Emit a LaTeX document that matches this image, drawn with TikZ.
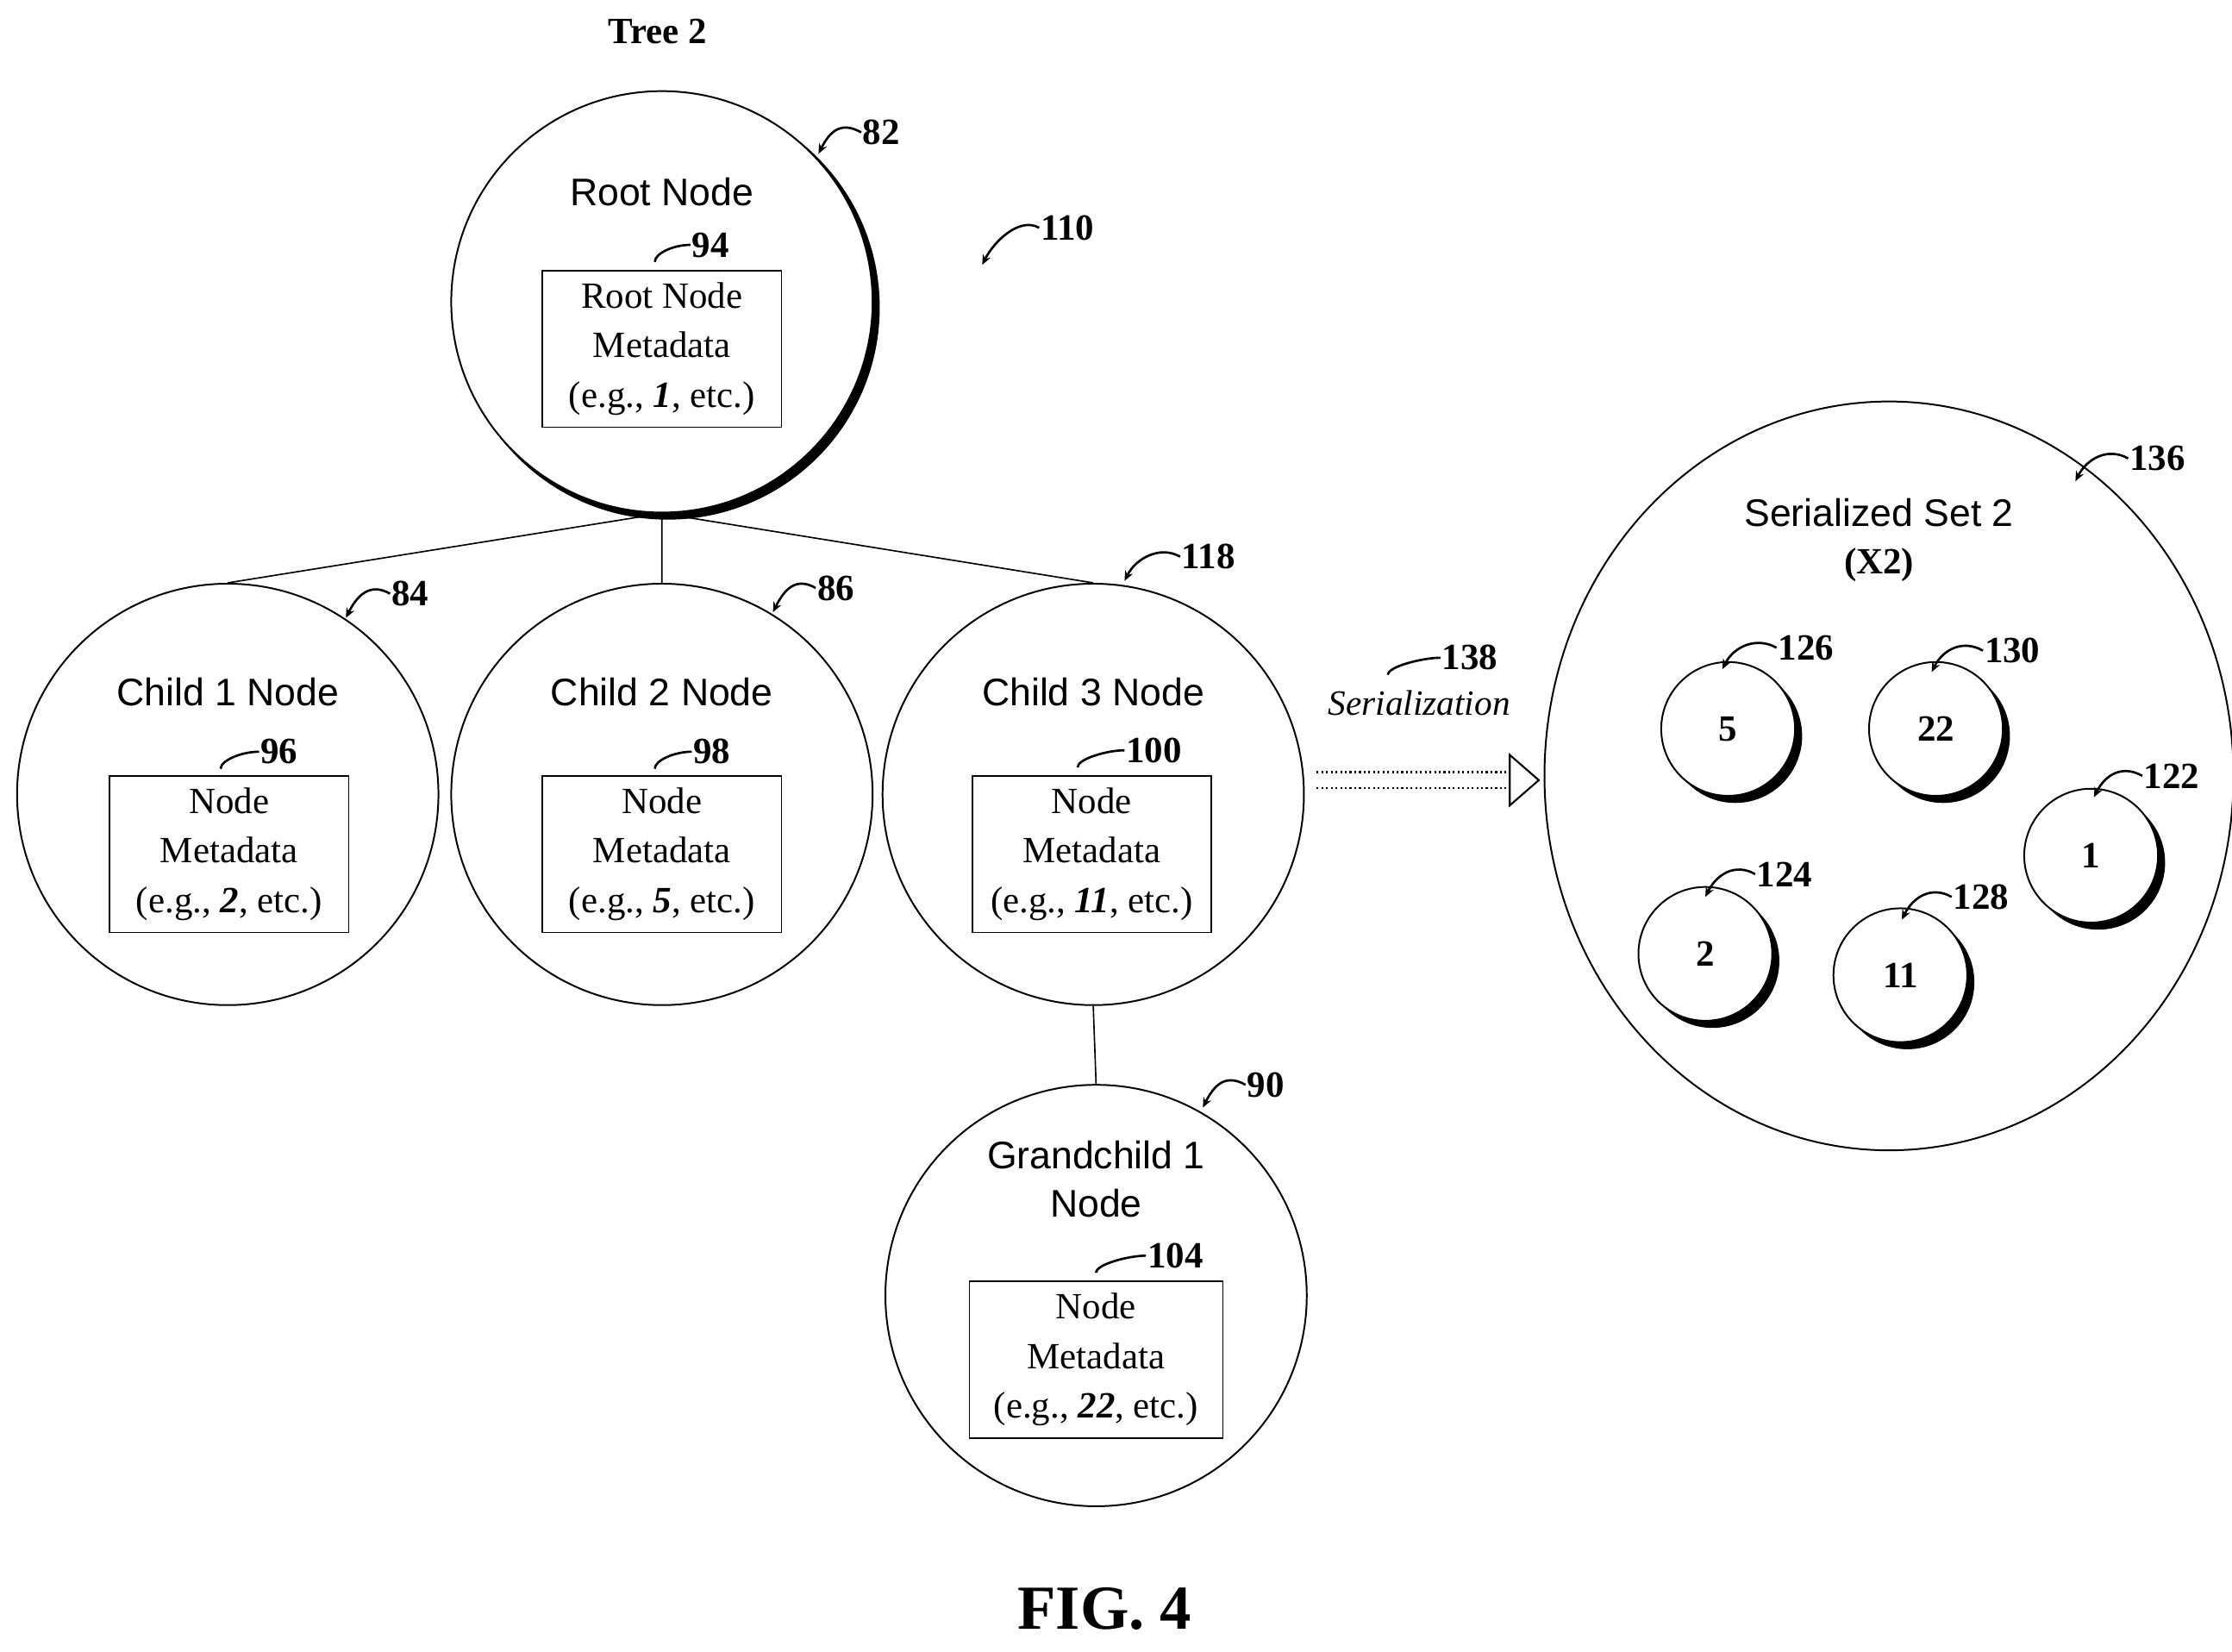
\documentclass[tikz,border=0pt]{standalone}
\usepackage{fontspec}
\setmainfont{Liberation Serif}
\setsansfont{Liberation Sans}
\usetikzlibrary{arrows.meta,shapes.geometric}
\begin{document}
\begin{tikzpicture}[x=1pt,y=-1pt,
  big/.style={circle,draw,line width=1.2pt,minimum size=296pt,inner sep=0},
  box/.style={draw,line width=1pt,minimum width=168pt,minimum height=110pt,align=center,font=\fontsize{26}{35}\selectfont,inner sep=0,fill=white},
  stitle/.style={font=\sffamily\fontsize{27}{34}\selectfont,align=center},
  num/.style={font=\bfseries\fontsize{26}{30}\selectfont,inner sep=1pt},
  ld/.style={line width=1.6pt,-{Stealth[length=7pt,width=6pt]}},
  hk/.style={line width=1.6pt},
  sm/.style={circle,draw,line width=1.2pt,fill=white,minimum size=94pt,inner sep=0,font=\bfseries\fontsize{26}{30}\selectfont}]
\useasboundingbox (0,0) rectangle (1568,1160);
\node[font=\bfseries\fontsize{26}{30}\selectfont] (t2) at (462,22) {Tree 2};
% root
\fill (469,216) circle (149);
\node[big,fill=white] (root) at (465,212) {};
\node[stitle] (rt) at (465,135) {Root Node};
\node[box] (rb) at (465,245) {Root Node\\Metadata\\(e.g., \textbf{\textit{1}}, etc.)};
% children
\node[big] (c1) at (160,558) {};
\node[big] (c2) at (465,558) {};
\node[big] (c3) at (768,558) {};
\node[big] (g1) at (770,910) {};
\node[stitle] at (160,486) {Child 1 Node};
\node[stitle] at (465,486) {Child 2 Node};
\node[stitle] at (768,486) {Child 3 Node};
\node[stitle] at (770,828) {Grandchild 1\\Node};
\node[box] (b1) at (161,600) {Node\\Metadata\\(e.g., \textbf{\textit{2}}, etc.)};
\node[box] (b2) at (465,600) {Node\\Metadata\\(e.g., \textbf{\textit{5}}, etc.)};
\node[box] (b3) at (767,600) {Node\\Metadata\\(e.g., \textbf{\textit{11}}, etc.)};
\node[box,minimum width=178pt] (b4) at (770,955) {Node\\Metadata\\(e.g., \textbf{\textit{22}}, etc.)};
\draw[line width=1pt] (root.south) -- (c1.north) (root.south) -- (c2.north) (root.south) -- (c3.north) (c3.south) -- (g1.north);
% set
\node[ellipse,draw,line width=1.2pt,minimum width=484pt,minimum height=526pt,inner sep=0] (set) at (1327,545) {};
\node[stitle] at (1320,360) {Serialized Set 2};
\node[font=\bfseries\fontsize{26}{30}\selectfont] at (1320,397) {(X2)};
\foreach \n/\x/\y/\t in {s5/1214/512/5,s22/1360/512/22,s1/1469/601/1,s2/1198/670/2,s11/1335/685/11}{
  \fill (\x+5,\y+5) circle (47);
  \node[sm] (\n) at (\x,\y) {\t};}
% arrow
\coordinate (a1) at (925,548);
\coordinate (a2) at (1082,548);
\draw[dotted,line width=1.3pt,double distance=10pt,-{Triangle[open,length=22pt,width=38pt]}] (a1) -- (a2);
\node[font=\itshape\fontsize{25}{30}\selectfont] at (997,494) {Serialization};
% labels with curvy arrows
\foreach \n/\x/\y/\tx/\ty in {82/623/93/575/108, 110/748/160/690/186, 136/1513/322/1458/338, 84/292/417/243/434, 86/591/413/543/430, 118/847/391/790/408, 90/893/762/845/778, 126/1266/455/1210/470, 130/1411/457/1357/472, 122/1523/545/1471/560, 124/1251/614/1198/630, 128/1389/630/1336/646}{
  \node[num,anchor=west] (l\n) at (\x-18,\y) {\n};
  \draw[ld] (l\n.west) .. controls +(-14,-8) and +(8,-16) .. (\tx,\ty);}
\foreach \n/\x/\y/\tx in {94/503/172/460, 96/200/528/155, 98/504/528/460, 100/808/527/757, 104/823/882/770, 138/1030/462/975}{
  \node[num,anchor=west] (l\n) at (\x-18,\y) {\n};
  \draw[hk] (l\n.west) .. controls +(-12,0) and +(0,-6) .. (\tx,\y+12);}
\node[font=\bfseries\fontsize{44}{50}\selectfont] (fig) at (776,1130) {FIG. 4};
\end{tikzpicture}
\end{document}
